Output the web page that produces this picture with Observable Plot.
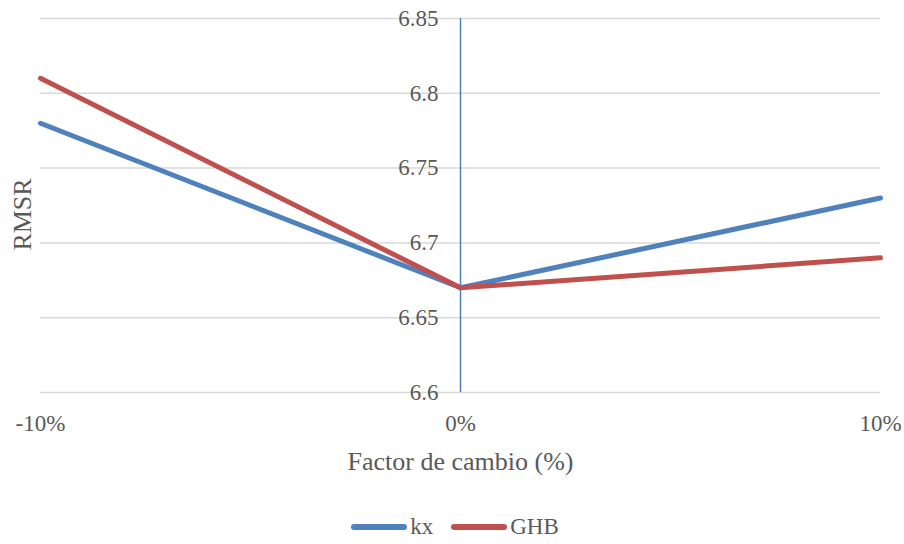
<!DOCTYPE html>
<html>
<head>
<meta charset="utf-8">
<script src="https://cdn.jsdelivr.net/npm/d3@7"></script>
<script src="https://cdn.jsdelivr.net/npm/@observablehq/plot@0.6"></script>
<style>
  body { margin: 0; background: #fff; font-family: "Times New Roman", "Liberation Serif", serif; }
  #legend { display: flex; justify-content: center; align-items: center; height: 54px; color: #595959; font-size: 23px; box-sizing: border-box; padding-top: 20px; padding-left: 6px; }
  .item { display: flex; align-items: center; margin: 0 9px; }
  .sw { width: 56px; height: 5.5px; border-radius: 3px; margin-right: 3px; }
</style>
</head>
<body>
<div id="chart"></div>
<div id="legend"></div>
<script>
const factors = [-10, 0, 10];
const factorLabels = ["-10%", "0%", "10%"];
const kx = [6.78, 6.67, 6.73];
const ghb = [6.81, 6.67, 6.69];
const yTicks = [6.6, 6.65, 6.7, 6.75, 6.8, 6.85];
const yTickLabels = ["6.6", "6.65", "6.7", "6.75", "6.8", "6.85"];
const seriesNames = ["kx", "GHB"];
const colors = ["#4F81BD", "#C0504D"];

const data = [];
factors.forEach((f, i) => {
  data.push({ serie: "kx", f, v: kx[i] });
  data.push({ serie: "GHB", f, v: ghb[i] });
});

const txt = "#595959";
const fs = 23;
const fsTitle = 26;
const ff = "'Times New Roman', 'Liberation Serif', serif";

const chart = Plot.plot({
  width: 904,
  height: 490,
  marginLeft: 40,
  marginRight: 24,
  marginTop: 18,
  marginBottom: 98,
  style: { fontFamily: ff, background: "#fff", overflow: "visible" },
  x: { domain: [-10, 10], axis: null },
  y: { domain: [6.6, 6.85], axis: null },
  color: { domain: seriesNames, range: colors },
  marks: [
    Plot.ruleY(yTicks, { x1: -10, x2: 10, y: d => d, stroke: "#D9D9D9", strokeWidth: 1.5 }),
    Plot.ruleX([0], { y1: 6.6, y2: 6.85, stroke: "#4F81BD", strokeWidth: 1.5 }),
    Plot.text(yTicks, { x: 0, y: d => d, text: (d, i) => yTickLabels[i], textAnchor: "end", dx: -22, fill: txt, fontSize: fs, fontFamily: ff }),
    Plot.text(factors, { x: d => d, y: 6.6, text: (d, i) => factorLabels[i], dy: 31, fill: txt, fontSize: fs, fontFamily: ff }),
    Plot.text(["Factor de cambio (%)"], { x: 0, y: 6.6, text: d => d, dy: 69, fill: txt, fontSize: fsTitle, fontFamily: ff, letterSpacing: "0.4px" }),
    Plot.text(["RMSR"], { x: -10, y: 6.719, text: d => d, dx: -18, rotate: -90, fill: txt, fontSize: fsTitle, fontFamily: ff }),
    Plot.line(data, { x: "f", y: "v", z: "serie", stroke: "serie", strokeWidth: 5, strokeLinecap: "round", strokeLinejoin: "round" })
  ]
});
document.getElementById("chart").appendChild(chart);

const legend = document.getElementById("legend");
seriesNames.forEach((n, i) => {
  const it = document.createElement("div");
  it.className = "item";
  it.innerHTML = `<span class="sw" style="background:${colors[i]}"></span><span>${n}</span>`;
  legend.appendChild(it);
});
</script>
</body>
</html>
